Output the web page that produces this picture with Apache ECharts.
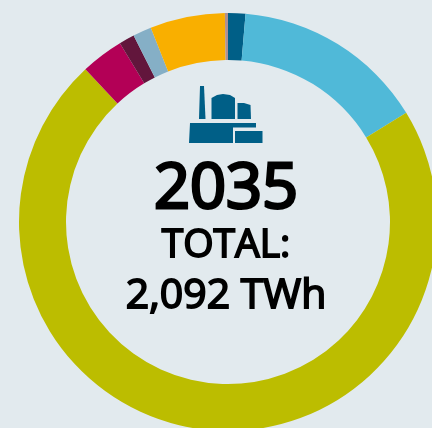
<!DOCTYPE html>
<html><head><meta charset="utf-8">
<style>html,body{margin:0;padding:0;background:#e2eaee;overflow:hidden}#c{width:432px;height:428px}</style>
<script src="https://cdn.jsdelivr.net/npm/echarts@6/dist/echarts.min.js"></script>
</head><body><div id="c"></div>
<script>
const categories = ['Dark blue','Light blue','Olive','Crimson','Purple','Steel blue','Orange','Grey'];
const values = [28, 312, 1502, 69, 25, 30, 121, 5];
const colors = ['#005f87','#50b9d8','#bcbd00','#b30056','#62163c','#85afc6','#f9af00','#b0908f'];
const yearLabel = '2035';
const totalLabel = 'TOTAL:';
const totalValue = '2,092 TWh';
const iconColor = '#005f87';
const font = '"Open Sans", sans-serif';
const chart = echarts.init(document.getElementById('c'), null, {renderer:'canvas'});
const poly = pts => ({type:'polygon', shape:{points:pts}, style:{fill:iconColor}, silent:true});
const txt = (t,y,size,sw) => ({type:'text', x:226, y:y, style:{text:t, fill:'#000', stroke:'#000', lineWidth:sw, font:`400 ${size}px ${font}`, align:'center', verticalAlign:'middle'}, silent:true});
chart.setOption({
  backgroundColor:'#e2eaee',
  animation:false,
  series:[{
    type:'pie',
    center:[228,222],
    radius:[162,209],
    startAngle:90,
    clockwise:true,
    silent:true,
    label:{show:false},
    labelLine:{show:false},
    data:categories.map((n,i)=>({name:n,value:values[i],itemStyle:{color:colors[i]}}))
  }],
  graphic:[
    poly([[200,86],[204,86],[205.5,119],[199,119]]),
    poly([[211.5,119],[211.5,98],[217,95],[223,94],[230,95],[235,98],[235,119]]),
    poly([[237.5,119],[237.5,103],[244,103],[250.5,105],[251,119]]),
    poly([[190,123],[256,123],[256,127.5],[233,127.5],[233,143],[189,143]]),
    poly([[235,131],[262.5,131],[262.5,143],[235,143]]),
    txt(yearLabel,190,63,3),
    txt(totalLabel,246,39,1.8),
    txt(totalValue,296,41,1.8)
  ]
});
</script></body></html>
